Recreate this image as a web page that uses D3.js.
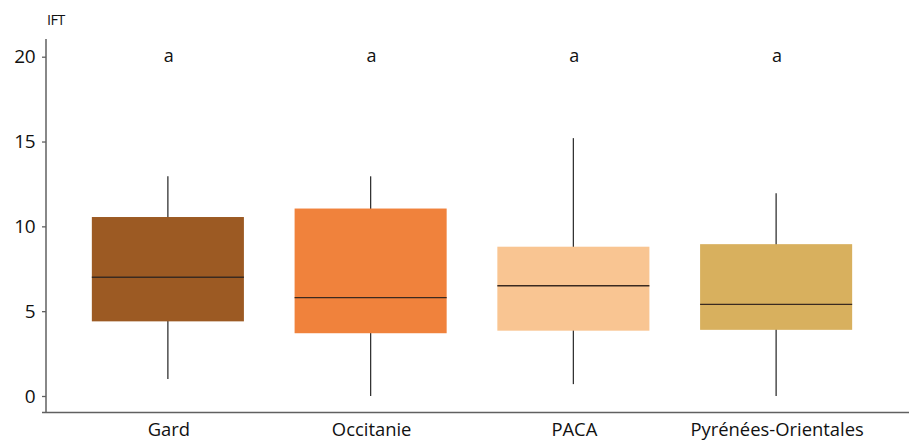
<!DOCTYPE html>
<html><head><meta charset="utf-8">
<script src="https://cdn.jsdelivr.net/npm/d3@7"></script>
<style>body{margin:0;background:#fff}text{font-family:"Open Sans","Noto Sans",sans-serif}</style>
</head><body>
<svg id="chart" width="909" height="441"></svg>
<script>
const categories = ["Gard","Occitanie","PACA","Pyrénées-Orientales"];
const mins    = [1.0, 0.0, 0.7, 0.0];
const q1s     = [4.4, 3.7, 3.85, 3.9];
const medians = [7.0, 5.8, 6.5, 5.4];
const q3s     = [10.55, 11.05, 8.8, 8.95];
const maxs    = [12.95, 12.95, 15.2, 11.95];
const letters = ["a","a","a","a"];
const colors  = ["#9C5A23","#F0823C","#F9C592","#D8B05E"];
const yTicks  = [0,5,10,15,20];

const svg = d3.select("#chart");
const y = d3.scaleLinear().domain([0,20]).range([396,56.7]);
const x = d3.scaleBand().domain(categories).range([66.5,877.5]).paddingInner(0.25).paddingOuter(0.125);

const data = categories.map((c,i)=>({c,min:mins[i],q1:q1s[i],med:medians[i],q3:q3s[i],max:maxs[i],l:letters[i],col:colors[i]}));

// whiskers
svg.selectAll(".wh").data(data).enter().append("line")
  .attr("x1",d=>x(d.c)+x.bandwidth()/2).attr("x2",d=>x(d.c)+x.bandwidth()/2)
  .attr("y1",d=>y(d.min)).attr("y2",d=>y(d.max))
  .attr("stroke","#333").attr("stroke-width",1.3);
// boxes
svg.selectAll(".bx").data(data).enter().append("rect")
  .attr("x",d=>x(d.c)).attr("width",x.bandwidth())
  .attr("y",d=>y(d.q3)).attr("height",d=>y(d.q1)-y(d.q3))
  .attr("fill",d=>d.col);
// medians
svg.selectAll(".md").data(data).enter().append("line")
  .attr("x1",d=>x(d.c)).attr("x2",d=>x(d.c)+x.bandwidth())
  .attr("y1",d=>y(d.med)).attr("y2",d=>y(d.med))
  .attr("stroke","#3a2a20").attr("stroke-width",1.3);
// letters
svg.selectAll(".lt").data(data).enter().append("text")
  .attr("x",d=>x(d.c)+x.bandwidth()/2+1).attr("y",62)
  .attr("text-anchor","middle").attr("font-size",18).attr("fill","#111").text(d=>d.l);

// y axis
const ya = svg.append("g").attr("transform","translate(46,0)")
  .call(d3.axisLeft(y).tickValues(yTicks).tickSize(4).tickPadding(7));
ya.select(".domain").remove();
ya.selectAll(".tick line").attr("stroke","#606060").attr("stroke-width",1.3);
ya.selectAll(".tick text").attr("font-size",19).attr("fill","#111").attr("font-family","Open Sans, sans-serif").attr("letter-spacing",-0.5);
svg.append("line").attr("x1",46).attr("x2",46).attr("y1",39).attr("y2",412.5).attr("stroke","#606060").attr("stroke-width",1.5);

// x axis
svg.append("line").attr("x1",42).attr("x2",909).attr("y1",412.5).attr("y2",412.5).attr("stroke","#606060").attr("stroke-width",1.5);
svg.selectAll(".cl").data(categories).enter().append("text")
  .attr("x",d=>x(d)+x.bandwidth()/2+1).attr("y",435.5)
  .attr("text-anchor","middle").attr("font-size",18.4).attr("fill","#111").text(d=>d);

svg.append("text").attr("x",47).attr("y",25).attr("font-size",14.5).attr("fill","#111").attr("letter-spacing",-0.6).text("IFT");
</script>
</body></html>
